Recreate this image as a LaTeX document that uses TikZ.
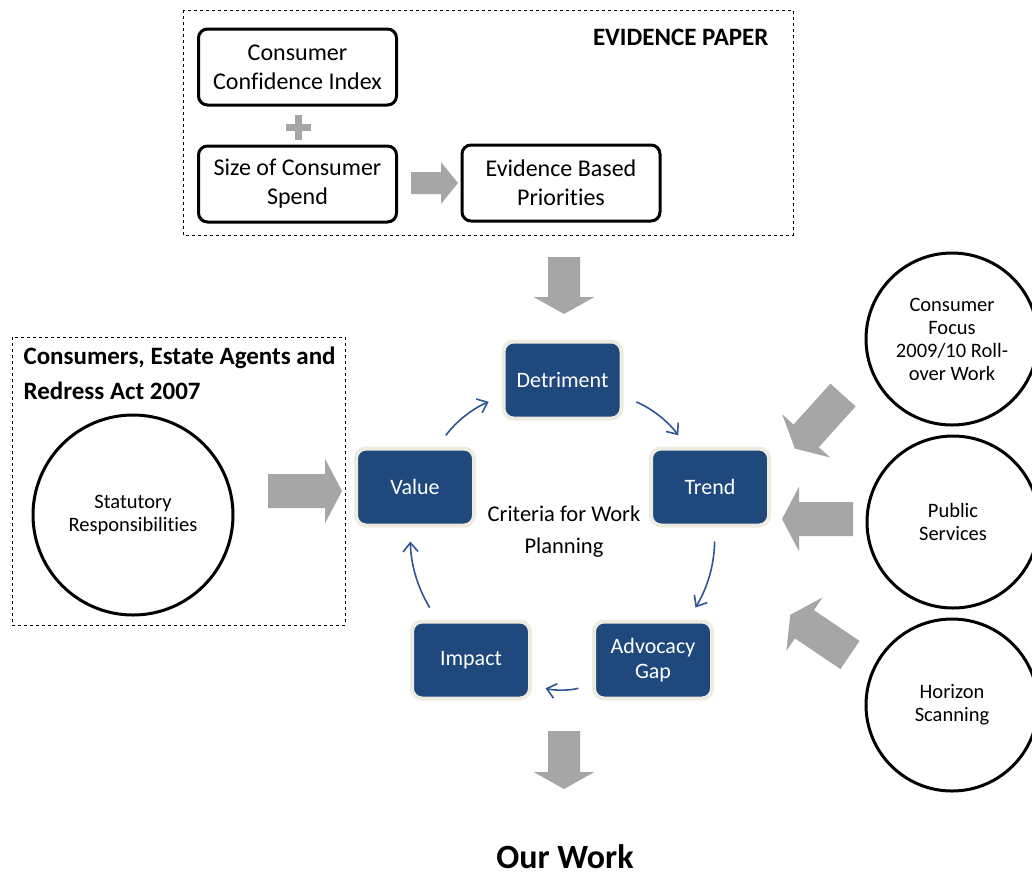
\documentclass[tikz,border=0pt]{standalone}
\usepackage{fontspec}
\setmainfont{Carlito}[Ligatures={NoCommon,NoContextual}]
\usetikzlibrary{arrows.meta,positioning}

\definecolor{navy}{HTML}{1F497D}
\definecolor{rimtan}{HTML}{EEECE1}
\definecolor{arrowgray}{HTML}{A6A6A6}
\definecolor{turnblue}{HTML}{2F5597}

\tikzset{
  dashframe/.style={draw, dashed, line width=1pt},
  title/.style={font=\bfseries\fontsize{25}{35}\selectfont, align=left},
  paperbox/.style={draw, line width=3pt, rounded corners=9pt, minimum width=198pt, minimum height=76pt, align=center, font=\fontsize{24}{29}\selectfont},
  criterion/.style={fill=navy, draw=rimtan, line width=4pt, rounded corners=10pt, minimum width=118pt, minimum height=77pt, text=white, align=center, font=\fontsize{22}{25}\selectfont},
  source/.style={draw, circle, line width=3pt, inner sep=0pt, align=center, font=\fontsize{20.5}{23}\selectfont},
  turn/.style={turnblue, line width=1.6pt, -{Straight Barb[length=9pt,width=15pt]}, bend left=15, shorten <=14pt, shorten >=14pt},
}
% gray block arrow: [shaft half width]{start coordinate}{angle}{length}
\newcommand{\blockarrow}[4][16]{%
  \fill[arrowgray, shift={(#2)}, rotate=#3] (0,-#1) -- ({#4-17},-#1) -- ({#4-17},{-1.9*#1}) -- (#4,0) -- ({#4-17},{1.9*#1}) -- ({#4-17},#1) -- (0,#1) -- cycle;}

\begin{document}
\begin{tikzpicture}[x=1pt, y=-1pt]
  \useasboundingbox[fill=white] (0,0) rectangle (1032,876);

  % evidence paper
  \draw[dashframe] (183,10) rectangle (793,235);
  \node[title, anchor=east] (paper) at (772,37) {EVIDENCE PAPER};
  \node[paperbox] (cci) at (297.5,67) {Consumer\\Confidence Index};
  \node[paperbox] (spend) at (297.5,184) {Size of Consumer\\Spend};
  \node[paperbox] (priorities) at (561,183) {Evidence Based\\Priorities};
  \fill[arrowgray] (285.5,123.5) rectangle (310.5,130.5); % plus
  \fill[arrowgray] (294.5,114.5) rectangle (301.5,139.5);
  \coordinate (toprio) at (411,183);
  \blockarrow[11]{toprio}{0}{47}
  \coordinate (intocycle) at (564,257);
  \blockarrow{intocycle}{-90}{57}

  % criteria for work planning
  \node[criterion] (detriment) at (562.5,380) {Detriment};
  \node[criterion] (trend) at (710,487) {Trend};
  \node[criterion] (gap) at (653,660) {Advocacy\\Gap};
  \node[criterion] (impact) at (471,660) {Impact};
  \node[criterion] (value) at (415,487) {Value};
  \node[align=center, font=\fontsize{22.5}{32}\selectfont] (criteria) at (564,532) {Criteria for Work\\Planning};
  \draw[turn] (value.61) to (detriment.195);
  \draw[turn] (detriment.-15) to (trend.120);
  \draw[turn] (trend.-83) to (gap.49);
  \draw[turn] (gap.202) to (impact.-22);
  \draw[turn] (impact.130) to (value.-97);

  % statutory side
  \draw[dashframe] (12,337) rectangle (345,625);
  \node[title, anchor=west] (act) at (20,373) {Consumers, Estate Agents and\\Redress Act 2007};
  \node[source, minimum size=200pt] (statutory) at (133,515) {Statutory\\Responsibilities};
  \coordinate (fromact) at (268,491);
  \blockarrow[17]{fromact}{0}{74}

  % other inputs
  \node[source, minimum size=172pt] (focus) at (952,339) {Consumer\\Focus\\2009/10 Roll-\\over Work};
  \node[source, minimum size=172pt] (public) at (953,522) {Public\\Services};
  \node[source, minimum size=172pt] (horizon) at (952,705) {Horizon\\Scanning};
  \coordinate (fromfocus) at (843,395);
  \coordinate (frompublic) at (853,519);
  \coordinate (fromhorizon) at (850,655);
  \blockarrow[17]{fromfocus}{-132}{72}
  \blockarrow[17]{frompublic}{180}{71}
  \blockarrow[17]{fromhorizon}{146}{72}

  % result
  \coordinate (outcycle) at (564,731);
  \blockarrow{outcycle}{-90}{58}
  \node[inner sep=0pt, font=\bfseries\fontsize{34}{40}\selectfont] (ourwork) at (565,857) {Our Work};
\end{tikzpicture}
\end{document}
